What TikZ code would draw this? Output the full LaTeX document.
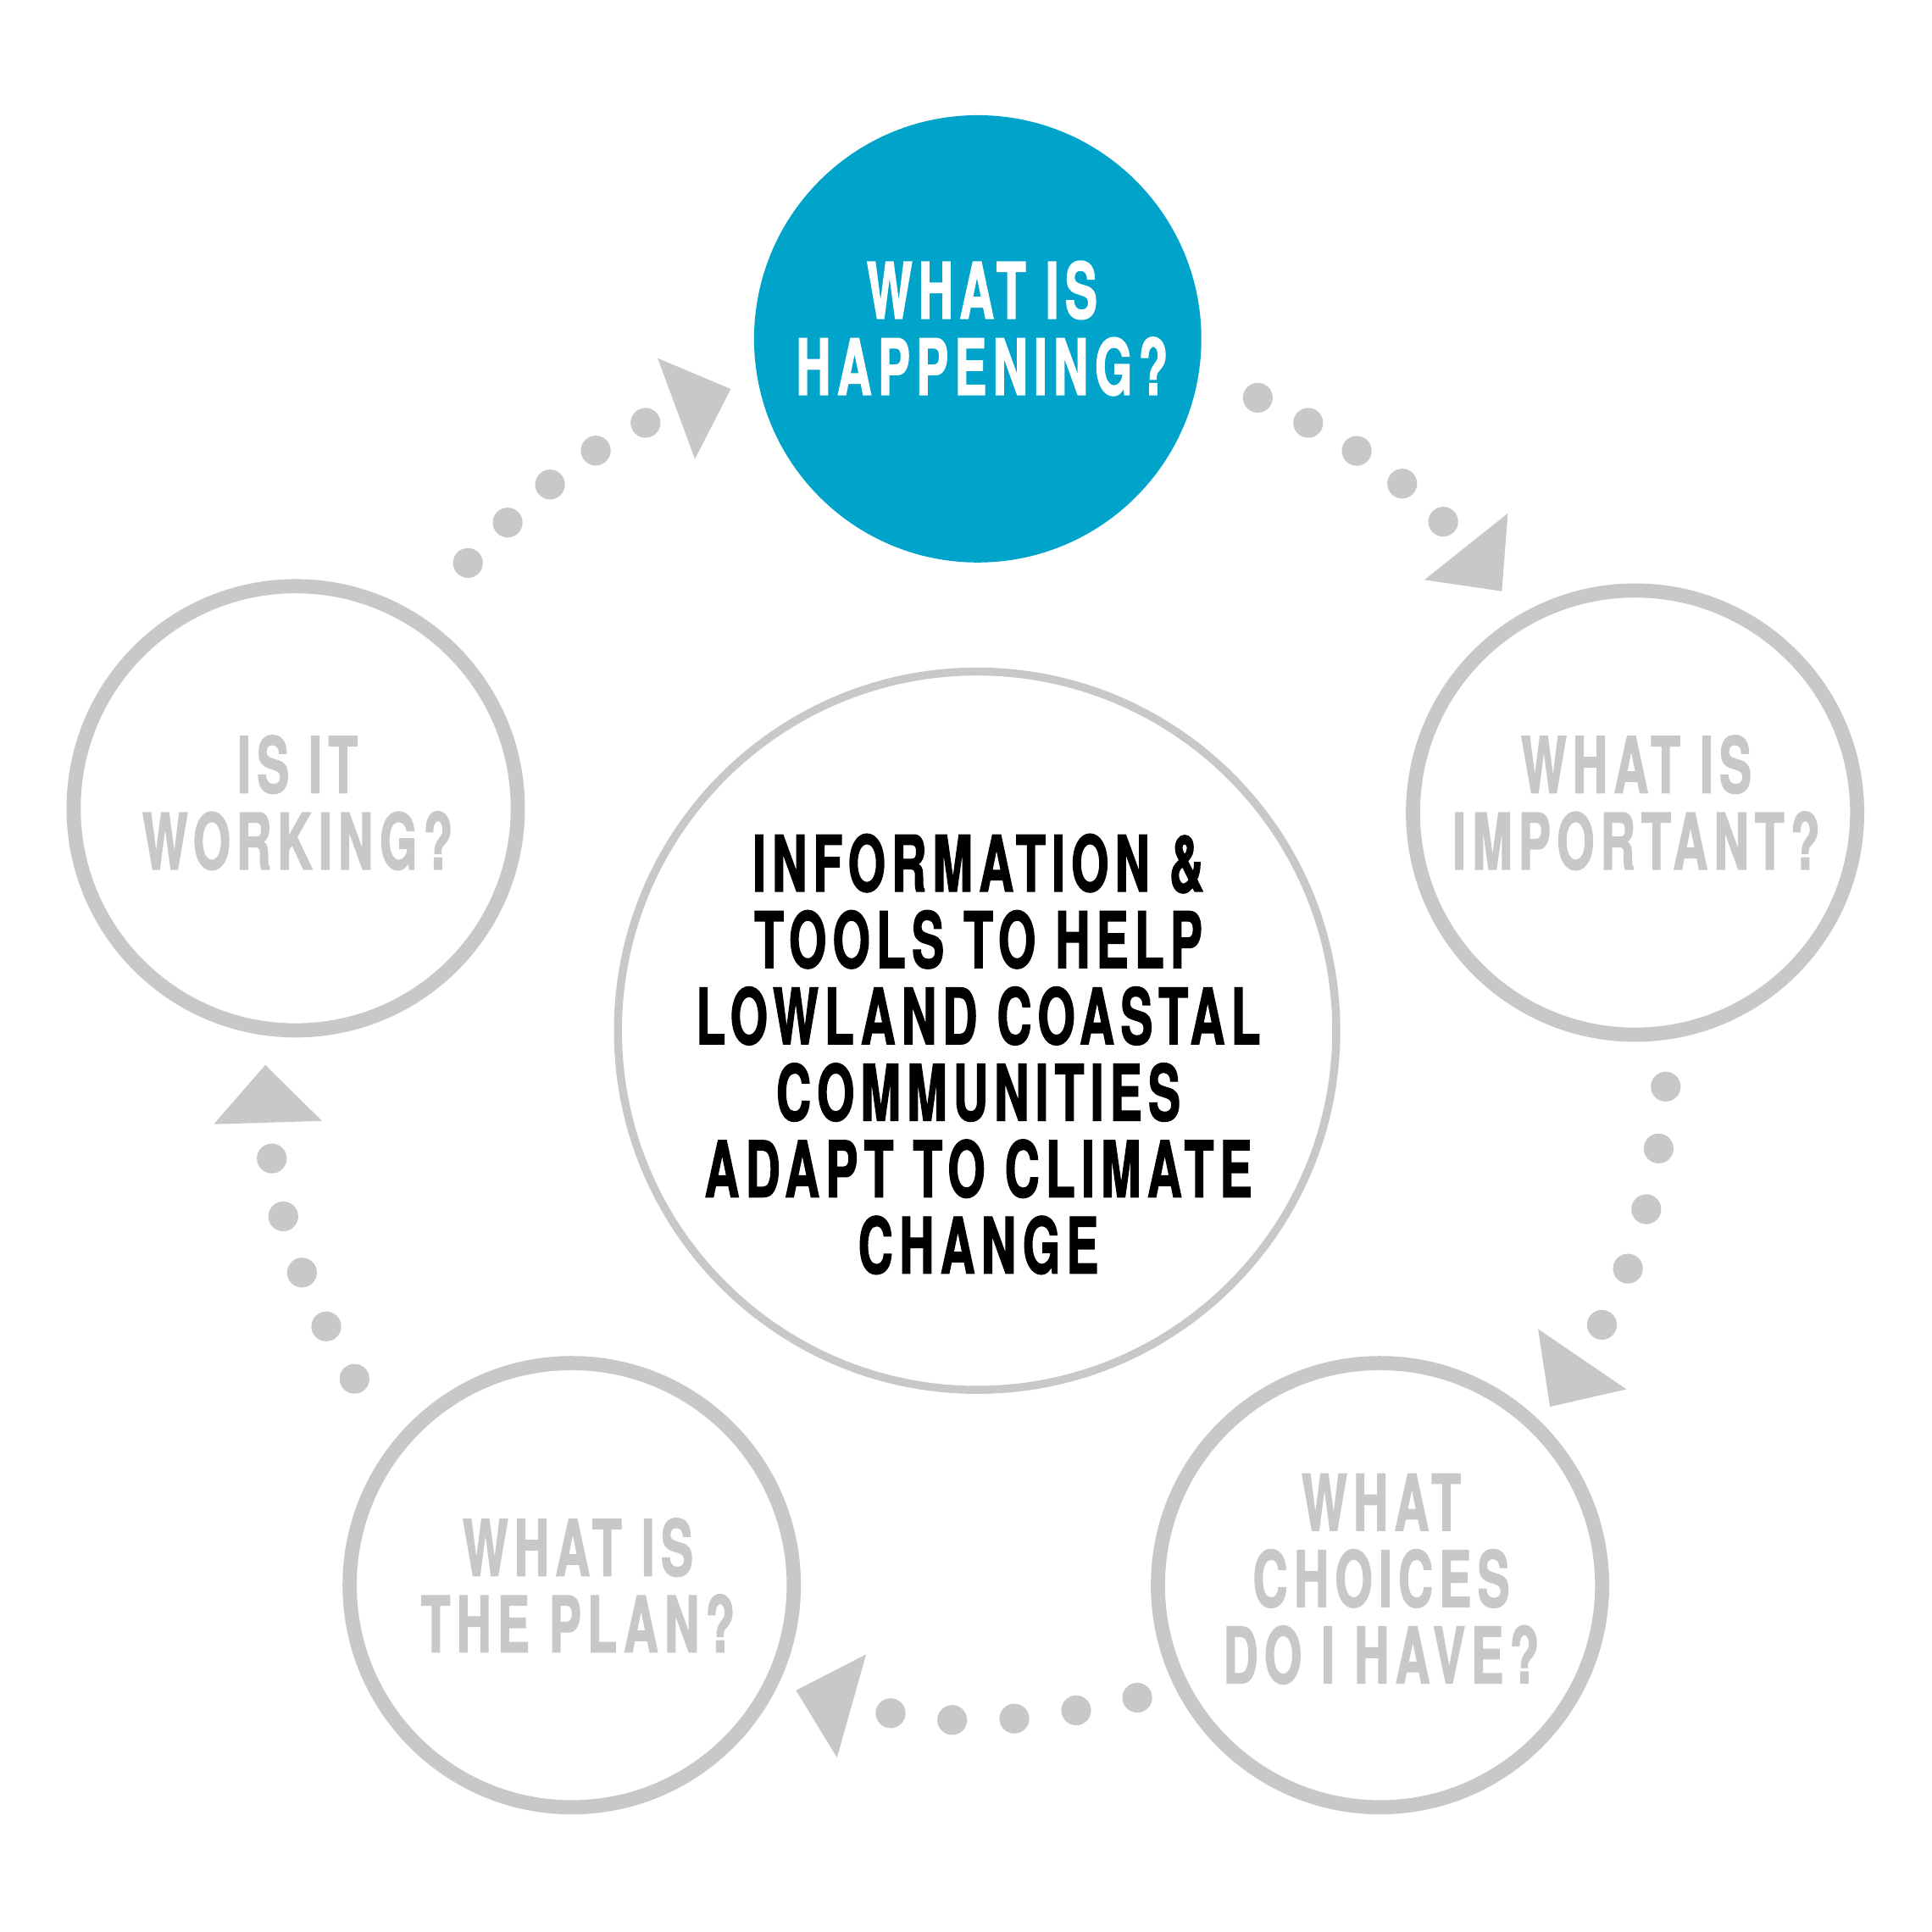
\documentclass[tikz,border=0pt]{standalone}
\usepackage{fontspec}
\newfontfamily\lblfont{TeX Gyre Heros}[FakeStretch=0.62,LetterSpace=8,FakeBold=1.5]
\definecolor{hblue}{HTML}{00A4CA}
\definecolor{ringgray}{HTML}{C7C8CA}
\begin{document}
\begin{tikzpicture}[x=1pt,y=-1pt,
  ring/.style={circle,draw=ringgray,line width=11.5pt,inner sep=0pt,minimum size=360.5pt},
  hubring/.style={circle,draw=ringgray,line width=6.5pt,inner sep=0pt,minimum size=583pt},
  hot/.style={circle,fill=hblue,draw=none,inner sep=0pt,minimum size=363pt},
  lbl/.style={font=\lblfont\bfseries\fontsize{63}{62}\selectfont,align=center,inner sep=0pt,anchor=center,text=ringgray},
  dotmark/.style={fill=ringgray},
  tip/.style={fill=ringgray}]
\useasboundingbox (0,0) rectangle (1568,1568);
\fill[white] (0,0) rectangle (1568,1568);

% circles
\node[hot] (hap) at (793.5,275) {};
\node[ring] (imp) at (1327,659.5) {};
\node[ring] (cho) at (1120,1286.5) {};
\node[ring] (plan) at (464,1286.5) {};
\node[ring] (work) at (240,656) {};
\node[hubring] (hub) at (793,836.5) {};

% labels
\node[lbl,text=white] (haptxt) at (797,266.5) {WHAT IS\\HAPPENING?};
\node[lbl] (imptxt) at (1328,651.5) {WHAT IS\\IMPORTANT?};
\node[lbl] (chotxt) at (1121,1281.5) {WHAT\\CHOICES\\DO I HAVE?};
\node[lbl] (plantxt) at (469,1286.5) {WHAT IS\\THE PLAN?};
\node[lbl] (worktxt) at (241.5,651.5) {IS IT\\WORKING?};
\node[lbl,text=black] (hubtxt) at (794,855.5) {INFORMATION \&\\TOOLS TO HELP\\LOWLAND COASTAL\\COMMUNITIES\\ADAPT TO CLIMATE\\CHANGE};

% dotted connectors
\foreach \p in {(379.8,456.9),(412,424.1),(446.4,393.2),(483.5,365.7),(523.9,343.2),
  (1020.8,322.8),(1061.7,343.2),(1101.1,365.9),(1138,392.5),(1171.3,423.4),
  (1351.9,881.9),(1346.1,932.1),(1336.1,981.4),(1321.2,1029.6),(1300.1,1075.2),
  (923,1377.8),(873.4,1388.1),(823.2,1394.8),(772.8,1395.9),(722.8,1390.4),
  (287.7,1119),(264.8,1076.5),(245.1,1032.8),(229.9,987.2),(220.6,940.2)}
  \fill[dotmark] \p circle[radius=12.1];

% arrow tips
\fill[tip] (533.7,290.7) -- (593.1,315.7) -- (564,372.5) -- cycle;
\fill[tip] (1223.7,416.6) -- (1218.9,479.8) -- (1156.1,470.6) -- cycle;
\fill[tip] (1248.3,1078.6) -- (1320,1127.5) -- (1257.9,1141.7) -- cycle;
\fill[tip] (702.9,1342.7) -- (679.3,1426.4) -- (646,1371.9) -- cycle;
\fill[tip] (215.3,864.3) -- (261.3,909.7) -- (173.5,912.4) -- cycle;
\end{tikzpicture}
\end{document}
